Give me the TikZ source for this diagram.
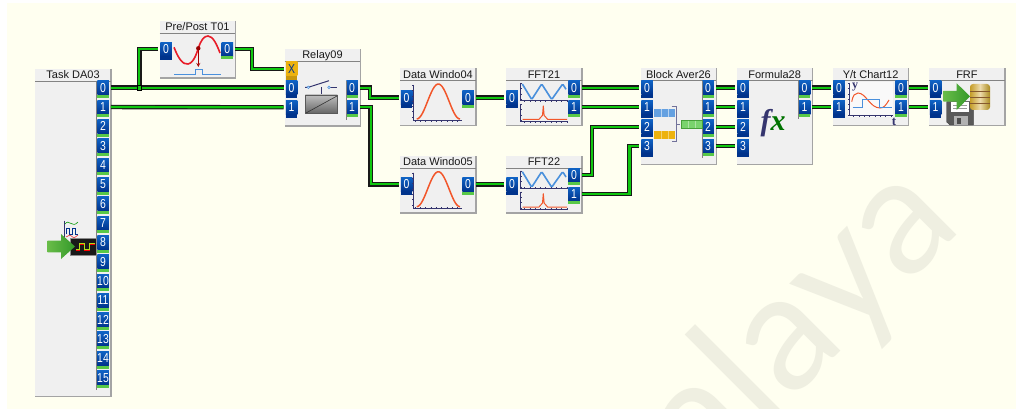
\documentclass[tikz,border=0pt]{standalone}
\usepackage{fontspec}
\setmainfont{Liberation Sans}
\newfontfamily\markfont{Lato}
\newfontfamily\fxfont{Liberation Serif}
\definecolor{sheet}{HTML}{FFFFF0}
\definecolor{markgray}{HTML}{EFEFE1}
\definecolor{blockfill}{HTML}{F0F0F0}
\definecolor{blockedge}{HTML}{A4A4A4}
\definecolor{portlight}{HTML}{0F62C4}
\definecolor{portdark}{HTML}{00338C}
\definecolor{portgreen}{HTML}{58C848}
\definecolor{amber}{HTML}{EDB20E}
\definecolor{wiregreen}{HTML}{10C810}
\definecolor{axisnavy}{HTML}{35356E}
\definecolor{curveorange}{HTML}{F2562A}
\definecolor{curveblue}{HTML}{4A90DC}
\definecolor{curvered}{HTML}{E81C28}
\definecolor{arrowlight}{HTML}{68BC48}
\definecolor{arrowdark}{HTML}{34992A}
\tikzset{
  blockbox/.style={fill=blockfill, anchor=north west, inner sep=0pt},
  blocktitle/.style={inner sep=0pt, text=black!90, font=\fontsize{11}{11}\selectfont},
  inport/.style={top color=portlight, bottom color=portdark, text=white, minimum width=11.5pt, minimum height=14pt, inner sep=0pt, font=\fontsize{13}{13}\selectfont},
  outport/.style={inport},
  xport/.style={inport, top color=amber, bottom color=amber, text=portdark},
  wire/.style={draw=black!90, line width=1.1pt, double=wiregreen, double distance=2.2pt, shorten <=2pt, shorten >=2pt},
  junction/.style={rectangle, fill=wiregreen, draw=black, line width=.8pt, minimum size=4.5pt, inner sep=0pt},
  axisline/.style={draw=axisnavy, line width=.8pt},
  axisticks/.style={draw=axisnavy, line width=2pt, dash pattern=on .8pt off 4.5pt},
  portrail/.style={draw=gray, line width=.8pt},
  windowplot/.pic={
    \draw[axisline] (13.3,16.7) -- (13.3,52.4) -- (61.7,52.4);
    \draw[axisticks] (13.3,16.7) -- (13.3,52.4) -- (61.7,52.4);
    \draw[curveorange, line width=1.5pt] plot[domain=0:1, samples=30] ({16.7+43.3*\x},{50.7-35*sin(180*\x)^2});
  },
  fftplot/.pic={
    \draw[axisline] (14.7,14.7) -- (14.7,32.4) -- (61,32.4);
    \draw[axisticks] (14.7,14.7) -- (14.7,32.4) -- (61,32.4);
    \draw[curveblue, line width=1.6pt, rounded corners=1.2pt] (16.3,15.7) -- (25.7,31.2) -- (35.7,15.7) -- (45.7,31.2) -- (56.7,15.7) -- (60,21);
    \draw[axisline] (14.7,35.7) -- (14.7,53.4) -- (61,53.4);
    \draw[axisticks] (14.7,35.7) -- (14.7,53.4) -- (61,53.4);
    \draw[curveorange, line width=1pt] (16.7,51) -- (33,51) -- (36.5,47) -- (37.3,37.4) -- (38.1,47) -- (41.6,51) -- (61,51);
  }
}
\newcommand{\blockbox}[5]{
  \node[blockbox, minimum width=#3pt, minimum height=#4pt] (#1) at (#2) {};
  \draw[blockedge, line width=1.3pt] (#1.north east) -- (#1.south east) -- (#1.south west);
  \draw[blockedge!80!black, line width=.9pt] ([yshift=-12pt]#1.north west) -- ([yshift=-12pt]#1.north east);
  \node[blocktitle] (#1title) at ([yshift=-6pt]#1.north) {#5};
}
\newcommand{\inport}[3]{
  \node[inport] (#1) at (#2) {\scalebox{.8}[1]{#3}};
  \fill[portdark] (#1.south west) rectangle ([yshift=-3.5pt]#1.south east);
}
\newcommand{\outport}[3]{
  \node[outport] (#1) at (#2) {\scalebox{.8}[1]{#3}};
  \fill[portgreen] (#1.south west) rectangle ([yshift=-3pt]#1.south east);
}
\begin{document}
\begin{tikzpicture}[x=1pt, y=-1pt]
  \useasboundingbox (0,0) rectangle (1016,409);
  \clip (0,0) rectangle (1016,409);
  \fill[white] (0,0) rectangle (1016,409);
  \fill[sheet] (7,3) rectangle (1016,409);
  \node[rotate=45, anchor=base east, inner sep=0pt, text=markgray, font=\markfont\fontsize{165}{165}\selectfont] (watermark) at (964,228) {alaya};

  \blockbox{task}{35,69}{75.7}{327}{Task DA03}
  \blockbox{prepost}{159.5,21}{75.5}{56.7}{Pre/Post T01}
  \blockbox{relay}{284.5,49.3}{75.5}{76.4}{Relay09}
  \blockbox{window04}{400,68.3}{75.5}{56.7}{Data Windo04}
  \blockbox{window05}{400,156}{75.5}{56.5}{Data Windo05}
  \blockbox{fft21}{506,68.3}{75.5}{56.7}{FFT21}
  \blockbox{fft22}{506,156}{75.5}{56.5}{FFT22}
  \blockbox{average}{640.5,68.3}{75.5}{96}{Block Aver26}
  \blockbox{formula}{736.7,68.3}{75.5}{96}{Formula28}
  \blockbox{chart}{832.7,68.3}{75.5}{57}{Y/t Chart12}
  \blockbox{frf}{929,68.3}{75.5}{57}{FRF}

  \foreach \i in {0,...,15} {
    \outport{taskout\i}{103,{87.7+19.33*\i}}{\i}
  }
  \draw[portrail] (96.8,81) -- (96.8,390);

  \inport{prepostin0}{166,49.3}{0}
  \outport{prepostout0}{227.3,49.3}{0}

  \node[xport] (relayinx) at (291.5,69) {\scalebox{.8}[1]{X}};
  \fill[amber!85!black] (relayinx.south west) rectangle ([yshift=-3.5pt]relayinx.south east);
  \inport{relayin0}{291.5,87.7}{0}
  \inport{relayin1}{291.5,107.3}{1}
  \outport{relayout0}{352,87.7}{0}
  \outport{relayout1}{352,107.3}{1}
  \draw[portrail] (346,81) -- (346,120);

  \inport{window04in0}{406.5,97.7}{0}
  \outport{window04out0}{468,97.7}{0}
  \inport{window05in0}{406.5,184.3}{0}
  \outport{window05out0}{468,184.3}{0}

  \inport{fft21in0}{512,97.7}{0}
  \outport{fft21out0}{574,87.7}{0}
  \outport{fft21out1}{574,107.3}{1}
  \inport{fft22in0}{512,184.3}{0}
  \outport{fft22out0}{574,175}{0}
  \outport{fft22out1}{574,194}{1}

  \inport{averagein0}{647,87.7}{0}
  \inport{averagein1}{647,107.3}{1}
  \inport{averagein2}{647,126.7}{2}
  \inport{averagein3}{647,146}{3}
  \outport{averageout0}{708,87.7}{0}
  \outport{averageout1}{708,107.3}{1}
  \outport{averageout2}{708,126.7}{2}
  \outport{averageout3}{708,146}{3}
  \draw[portrail] (702,81) -- (702,158);

  \inport{formulain0}{743,87.7}{0}
  \inport{formulain1}{743,107.3}{1}
  \inport{formulain2}{743,126.7}{2}
  \inport{formulain3}{743,146}{3}
  \outport{formulaout0}{804.5,87.7}{0}
  \outport{formulaout1}{804.5,107.3}{1}
  \draw[portrail] (798.7,81) -- (798.7,119);

  \inport{chartin0}{839,87.7}{0}
  \inport{chartin1}{839,107.3}{1}
  \outport{chartout0}{901,87.7}{0}
  \outport{chartout1}{901,107.3}{1}

  \inport{frfin0}{935.5,87.7}{0}
  \inport{frfin1}{935.5,107.3}{1}

  \draw[curvered, line width=1.6pt] (174,47.3) .. controls (179,60) and (183,64.5) .. (188,64) .. controls (194,63) and (197,52) .. (198.3,48.3) .. controls (201,40) and (204,36) .. (208,36) .. controls (213,36) and (217,45) .. (220,53);
  \fill[red!60!black] (198.3,48.3) circle (2.2pt);
  \draw[red!65!black, line width=.8pt, -stealth] (198.3,50) -- (198.3,67);
  \draw[curveblue, line width=1pt] (174.3,74.3) -- (195,74.3) -- (195,70) -- (202.7,70) -- (202.7,74.3) -- (221,74.3);

  \draw[axisnavy, line width=1pt] (305,87.3) -- (308.3,87.3) -- (329,80.7);
  \draw[axisnavy, line width=1pt] (329,87.3) -- (337.3,87.3);
  \draw[axisnavy, line width=1.5pt] (321.7,87) -- (321.7,94);
  \filldraw[fill=white, draw=curveblue, line width=.6pt] (308.3,87.3) circle (1.3pt);
  \filldraw[fill=white, draw=curveblue, line width=.6pt] (329,87.3) circle (1.3pt);
  \shade[top color=black!25, bottom color=black!60, draw=black!65] (305.3,95) rectangle (337.3,113.3);
  \draw[black!80, line width=.6pt] (306,113) -- (337,96);

  \pic at (400,68.3) {windowplot};
  \pic at (400,156) {windowplot};
  \pic at (506,68.3) {fftplot};
  \pic at (506,156) {fftplot};

  \fill[curveblue!85!white] (654,109) rectangle (675,117.3);
  \fill[amber] (654,131) rectangle (675,139);
  \draw[white!60!curveblue, line width=.5pt] (661,109) -- (661,117.3) (668,109) -- (668,117.3);
  \draw[white!40!amber, line width=.5pt] (661,131) -- (661,139) (668,131) -- (668,139);
  \draw[axisnavy!70!white, line width=.8pt] (671.7,106.7) -- (676.7,106.7) -- (676.7,141) -- (671.7,141);
  \draw[axisnavy!70!white, line width=.8pt] (676.7,124.3) -- (680,124.3);
  \filldraw[fill=portgreen!80!white, draw=portgreen!80!black, line width=.5pt] (681.7,120.7) rectangle (702,128.3);
  \draw[white!50!portgreen, line width=.8pt] (688.5,120.7) -- (688.5,128.3) (695.3,120.7) -- (695.3,128.3);

  \node[inner sep=0pt, font=\fxfont\bfseries\itshape\fontsize{30}{30}\selectfont] (fxsign) at (773,123) {\textcolor{axisnavy}{f}\textcolor{green!45!black}{x}};

  \fill[white!60!blockfill] (848,81.7) rectangle (893,116.7);
  \draw[axisline] (849,83) -- (849,115.7) -- (893,115.7);
  \draw[axisticks] (849,83) -- (849,115.7) -- (893,115.7);
  \draw[curveorange, line width=1pt] (851.7,101.7) .. controls (853,95) and (855,93) .. (858,93) .. controls (866,93) and (870,108) .. (880,108) .. controls (884,108) and (886,105) .. (889,100);
  \draw[curveblue, line width=1pt] (852.7,107.3) -- (862.7,107.3) -- (862.7,99.3) -- (879,99.3) -- (879,107.3) -- (891.7,107.3);
  \node[inner sep=0pt, text=axisnavy, font=\fxfont\bfseries\fontsize{12}{12}\selectfont] (charty) at (855,87) {y};
  \node[inner sep=0pt, text=axisnavy, font=\fxfont\bfseries\fontsize{13}{13}\selectfont] (chartt) at (894,122) {t};

  \filldraw[fill=black!65, draw=black!75, line width=.4pt] (946.7,101.7) -- (973.3,101.7) -- (973.3,125) -- (950,125) -- (946.7,122) -- cycle;
  \fill[white] (951,102) rectangle (969,112);
  \draw[black!40, line width=.5pt] (953,105) -- (967,105) (953,108) -- (967,108);
  \fill[black!30] (954,116) rectangle (968,125);
  \fill[black!70] (957,118) rectangle (961,124);
  \shade[left color=black!10!brown!70!yellow, right color=black!30!brown!70!yellow, middle color=yellow!30!brown!40!white, rounded corners=3pt] (970,84) rectangle (990,110);
  \draw[black!30!brown, line width=.5pt] (970,91) -- (990,91) (970,97) -- (990,97) (970,103) -- (990,103);
  \shade[left color=arrowlight, right color=arrowdark] (943.3,91) -- (956.7,91) -- (956.7,83.3) -- (970,96.3) -- (956.7,110) -- (956.7,101.7) -- (943.3,101.7) -- cycle;

  \draw[axisnavy, line width=.6pt] (64.3,220.7) -- (64.3,238);
  \draw[green!60!black, line width=.6pt] (65,224) .. controls (69,218) and (72,229) .. (78,222);
  \draw[portdark, line width=.6pt] (66,234) -- (66,228) -- (69,228) -- (69,234) -- (72,234) -- (72,228) -- (75,228) -- (75,234) -- (78,234);
  \draw[curvered, line width=.5pt] (66,237) -- (70,235) -- (74,238) -- (78,235);
  \filldraw[fill=black!90, draw=black!45, line width=.8pt] (70,238.3) rectangle (96.2,255);
  \draw[red, line width=1pt] (76,250) -- (79,250) -- (79,244) -- (84,244) -- (84,250) -- (89,250) -- (89,244) -- (95,244);
  \draw[yellow!70!green, line width=.5pt] (76,249) -- (79,249) -- (79,243) -- (84,243) -- (84,249) -- (89,249) -- (89,243) -- (95,243);
  \shade[left color=arrowlight, right color=arrowdark] (47.7,240.7) -- (61,240.7) -- (61,234) -- (75,246.5) -- (61,259) -- (61,252.3) -- (47.7,252.3) -- cycle;

  \coordinate (split) at (139.3,87.7);
  \draw[wire] (taskout0.east) -- (relayin0.west);
  \draw[wire] (taskout1.east) -- (relayin1.west);
  \draw[wire, shorten <=0pt] (split) |- (prepostin0.west);
  \draw[wire] (prepostout0.east) -- ++(18.7,0) |- (relayinx.west);
  \draw[wire] (relayout0.east) -- ++(12,0) |- (window04in0.west);
  \draw[wire] (relayout1.east) -- ++(12.7,0) |- (window05in0.west);
  \draw[wire] (window04out0.east) -- (fft21in0.west);
  \draw[wire] (window05out0.east) -- (fft22in0.west);
  \draw[wire] (fft21out0.east) -- (averagein0.west);
  \draw[wire] (fft21out1.east) -- (averagein1.west);
  \draw[wire] (fft22out0.east) -- ++(11.9,0) |- (averagein2.west);
  \draw[wire] (fft22out1.east) -- ++(49.5,0) |- (averagein3.west);
  \draw[wire] (averageout0.east) -- (formulain0.west);
  \draw[wire] (averageout1.east) -- (formulain1.west);
  \draw[wire] (averageout2.east) -- (formulain2.west);
  \draw[wire] (averageout3.east) -- (formulain3.west);
  \draw[wire] (formulaout0.east) -- (chartin0.west);
  \draw[wire] (formulaout1.east) -- (chartin1.west);
  \draw[wire] (chartout0.east) -- (frfin0.west);
  \draw[wire] (chartout1.east) -- (frfin1.west);
  \node[junction] (splitdot) at (split) {};
\end{tikzpicture}
\end{document}
